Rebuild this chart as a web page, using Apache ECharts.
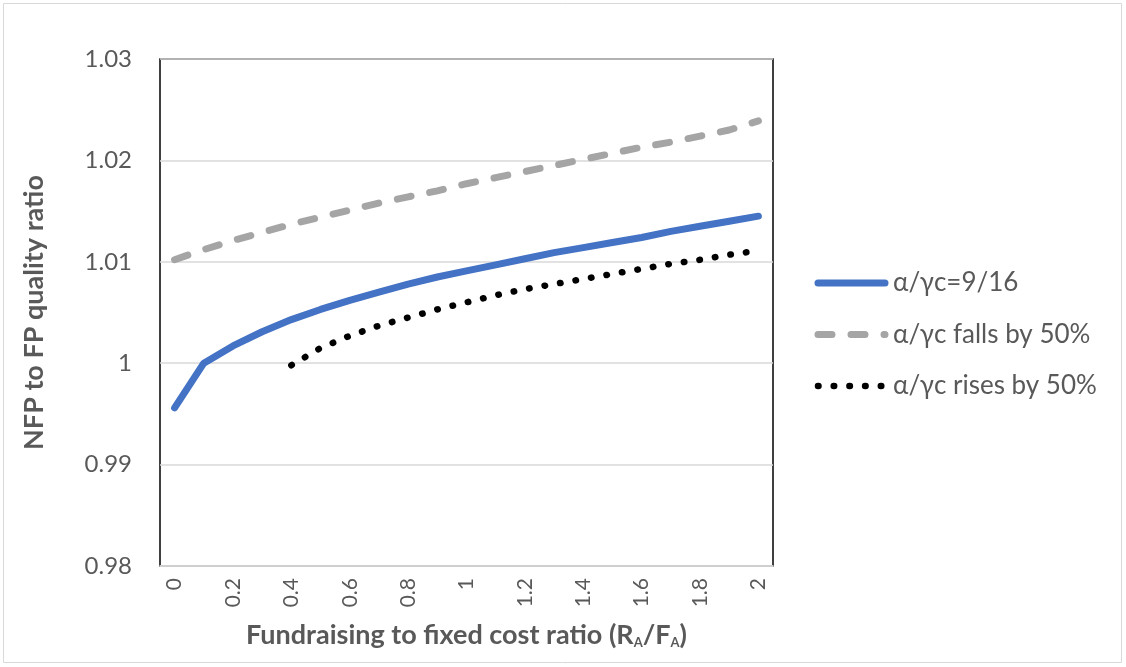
<!DOCTYPE html>
<html>
<head>
<meta charset="utf-8">
<script src="https://cdn.jsdelivr.net/npm/echarts@6/dist/echarts.min.js"></script>
<style>
html,body{margin:0;padding:0;background:#fff;}
#c{width:1126px;height:667px;}
</style>
</head>
<body>
<div id="c"></div>
<script>
var categories = ["0","0.1","0.2","0.3","0.4","0.5","0.6","0.7","0.8","0.9","1","1.1","1.2","1.3","1.4","1.5","1.6","1.7","1.8","1.9","2"];
var baseSeries = [0.9956,1.0000,1.0017,1.0031,1.0043,1.0053,1.0062,1.0070,1.0078,1.0085,1.0091,1.0097,1.0103,1.0109,1.0114,1.0119,1.0124,1.0130,1.0135,1.0140,1.0145];
var fallsSeries = [1.0102,1.0112,1.0121,1.0129,1.0137,1.0144,1.0151,1.0158,1.0164,1.0170,1.0177,1.0183,1.0189,1.0195,1.0201,1.0207,1.0213,1.0218,1.0224,1.0230,1.0239];
var risesSeries = ['-','-','-','-',0.9998,1.0015,1.0027,1.0037,1.0045,1.0053,1.0060,1.0067,1.0073,1.0078,1.0083,1.0088,1.0093,1.0098,1.0102,1.0107,1.0111];
var seriesNames = ["α/γc=9/16","α/γc falls by 50%","α/γc rises by 50%"];
var yMin = 0.98, yMax = 1.03, yStep = 0.01;

var FONT = 'Lato';
var TXT = '#595959';
var styles = [
  {color: '#4472C4', width: 7, dash: null},
  {color: '#A5A5A5', width: 7, dash: [14, 19]},
  {color: '#000000', width: 6.5, dash: [0.5, 15.2]}
];

// legend drawn as graphic elements (line samples + series names)
var legendGraphics = [];
var legX = 818, legX2 = 885, legY0 = 283, legStep = 51.5;
seriesNames.forEach(function (name, i) {
  var y = legY0 + i * legStep;
  var st = styles[i];
  legendGraphics.push({
    type: 'line', silent: true,
    shape: {x1: legX, y1: y, x2: legX2, y2: y},
    style: {stroke: st.color, lineWidth: st.width, lineCap: 'round', lineDash: st.dash || null}
  });
  legendGraphics.push({
    type: 'text', silent: true, x: 893, y: y,
    style: {text: name, fontFamily: FONT, fontSize: 26, fill: TXT, verticalAlign: 'middle', align: 'left'}
  });
});

var chart = echarts.init(document.getElementById('c'));
chart.setOption({
  animation: false,
  textStyle: {fontFamily: FONT},
  graphic: [{
    type: 'rect', shape: {x: 3.5, y: 3.5, width: 1118, height: 659},
    style: {fill: 'none', stroke: '#d9d9d9', lineWidth: 1}, silent: true, z: -10
  }].concat(legendGraphics),
  grid: {left: 160, right: 353, top: 59, bottom: 101, show: true, borderColor: '#000', borderWidth: 1.5, backgroundColor: 'transparent'},
  xAxis: {
    type: 'category', data: categories, boundaryGap: true,
    axisLine: {show: true, lineStyle: {color: '#d9d9d9', width: 1.5}},
    axisTick: {show: false},
    axisLabel: {interval: 1, rotate: 90, fontSize: 21, color: TXT, margin: 12, fontFamily: FONT},
    name: '{t|Fundraising to fixed cost ratio (R}{s|A}{t|/F}{s|A}{t|)}',
    nameLocation: 'middle', nameGap: 56,
    nameTextStyle: {
      rich: {
        t: {fontSize: 27, fontWeight: 'bold', color: TXT, fontFamily: FONT},
        s: {fontSize: 13, fontWeight: 'bold', color: TXT, fontFamily: FONT, padding: [14,0,0,0]}
      }
    }
  },
  yAxis: {
    type: 'value', min: yMin, max: yMax, interval: yStep,
    axisLine: {show: false}, axisTick: {show: false},
    splitLine: {show: true, lineStyle: {color: '#d9d9d9', width: 1.5}},
    axisLabel: {fontSize: 24, color: TXT, margin: 28, fontFamily: FONT},
    name: 'NFP to FP quality ratio', nameLocation: 'middle', nameGap: 112,
    nameTextStyle: {fontSize: 27, fontWeight: 'bold', color: TXT, fontFamily: FONT}
  },
  series: [
    {name: seriesNames[0], type: 'line', data: baseSeries, symbol: 'none',
     lineStyle: {color: styles[0].color, width: styles[0].width, cap: 'round', join: 'round'}, z: 3},
    {name: seriesNames[1], type: 'line', data: fallsSeries, symbol: 'none',
     lineStyle: {color: styles[1].color, width: styles[1].width, type: styles[1].dash, cap: 'round', join: 'round'}, z: 2},
    {name: seriesNames[2], type: 'line', data: risesSeries, symbol: 'none',
     lineStyle: {color: styles[2].color, width: styles[2].width, type: styles[2].dash, cap: 'round', join: 'round'}, z: 4}
  ]
});
</script>
</body>
</html>
